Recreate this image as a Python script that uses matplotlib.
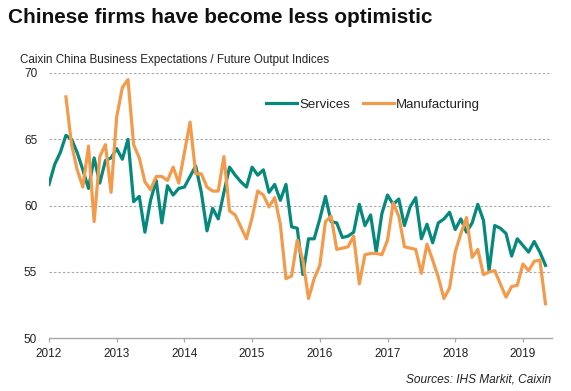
import matplotlib
matplotlib.use('Agg')
import matplotlib.pyplot as plt
import numpy as np

# ---- data (monthly, services from Jan 2012, manufacturing from Apr 2012) ----
services = [
    61.6, 63.1, 64.0, 65.3, 65.0, 64.0, 62.7, 61.3, 63.6, 61.7, 63.4, 63.6,   # 2012
    64.3, 63.5, 65.0, 60.3, 60.7, 58.0, 60.4, 61.9, 58.7, 61.5, 60.8, 61.3,   # 2013
    61.4, 62.2, 63.0, 61.0, 58.1, 59.8, 59.0, 61.0, 62.9, 62.3, 61.8, 61.4,   # 2014
    62.9, 62.3, 62.7, 61.0, 61.6, 60.4, 61.6, 58.4, 58.3, 54.8, 57.5, 57.5,   # 2015
    59.0, 60.7, 58.8, 58.7, 57.6, 57.7, 58.0, 60.1, 58.5, 59.3, 56.5, 59.4,   # 2016
    60.8, 60.1, 60.5, 58.5, 59.9, 60.6, 57.5, 58.6, 57.2, 58.7, 59.0, 59.5,   # 2017
    58.2, 59.0, 58.0, 58.7, 60.1, 58.9, 55.1, 58.5, 58.3, 57.9, 56.2, 57.5,   # 2018
    57.0, 56.5, 57.3, 56.5, 55.5,                                             # 2019
]
manufacturing = [
    68.2, 64.6, 62.7, 61.4, 64.5, 58.8, 63.7, 64.6, 61.0,                     # 2012 (Apr-)
    66.7, 68.9, 69.5, 64.6, 63.6, 61.8, 61.2, 62.2, 62.2, 61.9, 62.9, 61.7,   # 2013
    64.0, 66.3, 62.4, 62.4, 61.4, 61.1, 61.1, 63.7, 59.6, 59.3, 58.4, 57.5,   # 2014
    59.1, 61.1, 60.8, 59.9, 60.6, 58.6, 54.5, 54.7, 57.4, 55.9, 53.0, 54.5,   # 2015
    55.5, 58.8, 59.2, 56.7, 56.8, 56.9, 57.7, 54.1, 56.3, 56.4, 56.4, 56.3,   # 2016
    57.4, 60.2, 59.2, 56.9, 56.8, 56.7, 54.9, 57.1, 55.9, 54.6, 53.0, 53.8,   # 2017
    56.5, 57.9, 59.1, 56.1, 56.7, 54.8, 55.0, 55.1, 54.1, 53.1, 53.9, 54.0,   # 2018
    55.6, 55.1, 55.8, 55.9, 52.6,                                             # 2019
]
services_start_month = 0        # Jan 2012
manufacturing_start_month = 3   # Apr 2012
year_ticks = [2012, 2013, 2014, 2015, 2016, 2017, 2018, 2019]
y_ticks = [50, 55, 60, 65, 70]
series_names = ['Services', 'Manufacturing']

title = 'Chinese firms have become less optimistic'
subtitle = 'Caixin China Business Expectations / Future Output Indices'
source = 'Sources: IHS Markit, Caixin'

TEAL = '#05897c'
ORANGE = '#f39b4b'
GRID = '#a8a8a8'

plt.rcParams['font.family'] = ['Liberation Sans', 'DejaVu Sans']

W, H = 571, 391
fig = plt.figure(figsize=(W / 100, H / 100), dpi=100)
ax = fig.add_axes([49 / W, 1 - 338.3 / H, (551.7 - 49) / W, (338.3 - 73) / H])

xs = 2012 + (services_start_month + np.arange(len(services))) / 12
xm = 2012 + (manufacturing_start_month + np.arange(len(manufacturing))) / 12
ax.plot(xs, services, color=TEAL, lw=2.3, label=series_names[0], zorder=3)
ax.plot(xm, manufacturing, color=ORANGE, lw=2.3, label=series_names[1], zorder=4)

ax.set_xlim(2012, 2019.425)
ax.set_ylim(50, 70)
ax.set_xticks(year_ticks)
ax.set_xticklabels([str(y) for y in year_ticks])
ax.set_yticks(y_ticks)
ax.set_yticklabels([str(v) for v in y_ticks])

for s in ['top', 'right', 'left']:
    ax.spines[s].set_visible(False)
ax.spines['bottom'].set_color(GRID)
ax.spines['bottom'].set_linewidth(1.0)

ax.tick_params(axis='y', length=0, pad=8.5, labelsize=8.5, labelcolor='#222222')
ax.tick_params(axis='x', length=3.2, width=0.9, color=GRID, pad=3.5,
               labelsize=8.5, labelcolor='#222222', direction='out')

for v in y_ticks[1:]:
    ax.axhline(v, color=GRID, lw=0.8, dashes=(2.2, 1.8), zorder=1)

leg = ax.legend(ncol=2, frameon=False, fontsize=9.5, handlelength=2.35,
                handletextpad=0.15, columnspacing=1.0, borderpad=0,
                borderaxespad=0, loc='center left',
                bbox_to_anchor=(266 / W, 1 - 105 / H),
                bbox_transform=fig.transFigure)
for t in leg.get_texts():
    t.set_color('#222222')

t_title = fig.text(8 / W, 1 - 23 / H, title, fontsize=13, fontweight='bold',
                   ha='left', va='baseline', color='#111111')
t_sub = fig.text(20 / W, 1 - 63 / H, subtitle, fontsize=8, ha='left',
                 va='baseline', color='#222222')
t_src = fig.text(551 / W, 1 - 382 / H, source, fontsize=8, style='italic',
                 ha='right', va='baseline', color='#222222')


def fit(t, target_px):
    fig.canvas.draw()
    r = fig.canvas.get_renderer()
    w = t.get_window_extent(r).width
    t.set_fontsize(t.get_fontsize() * target_px / w)


fit(t_title, 424)
fit(t_sub, 310)
fit(t_src, 146)

fig.savefig('out.png', dpi=100)
